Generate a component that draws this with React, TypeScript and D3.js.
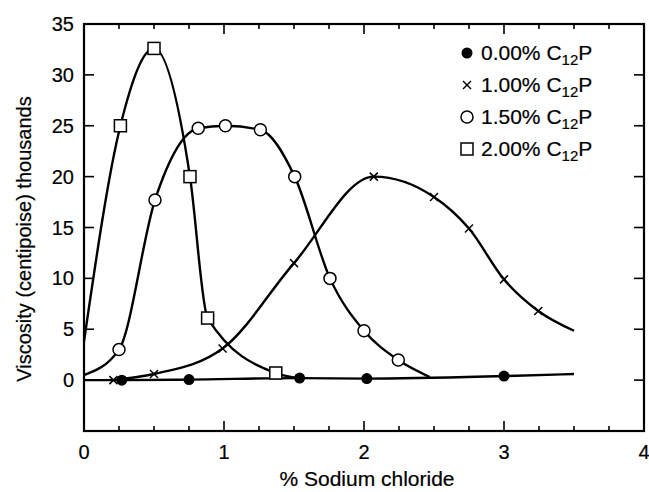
import React from "react";
import * as d3 from "d3";

type P = [number, number];

// Marker data (x = % NaCl, y = viscosity in thousands of cP)
const s000: P[] = [[0.27, 0], [0.75, 0.05], [1.54, 0.2], [2.02, 0.15], [3.0, 0.4]];
const s100: P[] = [[0.21, 0], [0.5, 0.6], [0.99, 3.1], [1.5, 11.5], [2.07, 20], [2.5, 18], [2.75, 14.9], [3.0, 9.9], [3.245, 6.8]];
const s150: P[] = [[0.25, 3], [0.507, 17.7], [0.816, 24.75], [1.01, 25], [1.26, 24.6], [1.505, 20], [1.757, 10], [2.0, 4.85], [2.245, 1.97]];
const s200: P[] = [[0.26, 25], [0.5, 32.6], [0.757, 20], [0.883, 6.1], [1.37, 0.7]];

// Curve end points
const c000Start: P = [0, 0];
const c000End: P = [3.5, 0.6];
const c100End: P = [3.5, 4.85];
const c150Start: P = [0, 0.5];
const c150End: P = [2.47, 0.3];
const c200Start: P = [0, 3.8];
const c200End: P = [1.54, 0.2];

const legendLabels = ["0.00%", "1.00%", "1.50%", "2.00%"];
const xTickLabels = [0, 1, 2, 3, 4];
const yTickLabels = [0, 5, 10, 15, 20, 25, 30, 35];

const W = 649, H = 492;
const L = 84, R = 644, T = 24, B = 431;
const FONT = "'Liberation Sans', Arial, Helvetica, sans-serif";
const TXT = { stroke: "#000", strokeWidth: 0.2 } as const;

export default function App() {
  const x = d3.scaleLinear().domain([0, 4]).range([L, R]);
  const y = d3.scaleLinear().domain([-5, 35]).range([B, T]);
  const line = d3.line<P>().x(d => x(d[0])).y(d => y(d[1])).curve(d3.curveMonotoneX);

  const curves: P[][] = [
    [c000Start, ...s000, c000End],
    [...s100, c100End],
    [c150Start, ...s150, c150End],
    [c200Start, ...s200, c200End],
  ];

  const xMinor = d3.range(0, 4.001, 0.25);

  const marker = (kind: number, cx: number, cy: number, key: string) => {
    if (kind === 0) return <circle key={key} cx={cx} cy={cy} r={5.5} fill="#000" />;
    if (kind === 1) {
      const s = 4;
      return (
        <g key={key} stroke="#000" strokeWidth={1.5}>
          <line x1={cx - s} y1={cy - s} x2={cx + s} y2={cy + s} />
          <line x1={cx - s} y1={cy + s} x2={cx + s} y2={cy - s} />
        </g>
      );
    }
    if (kind === 2) return <circle key={key} cx={cx} cy={cy} r={6} fill="#fff" stroke="#000" strokeWidth={1.5} />;
    return <rect key={key} x={cx - 6} y={cy - 6} width={12} height={12} fill="#fff" stroke="#000" strokeWidth={1.5} />;
  };

  const series = [s000, s100, s150, s200];

  return (
    <div style={{ position: "absolute", left: 0, top: 0 }}>
      <svg width={W} height={H} style={{ display: "block", background: "#fff" }} fontFamily={FONT}>
        {/* frame */}
        <rect x={L} y={T} width={R - L} height={B - T} fill="none" stroke="#000" strokeWidth={2.2} />
        {/* x ticks */}
        {xMinor.map((v, i) => {
          const major = Math.abs(v - Math.round(v)) < 1e-6;
          const len = major ? 10 : 5;
          return (
            <g key={"xt" + i} stroke="#000" strokeWidth={1.6}>
              <line x1={x(v)} x2={x(v)} y1={B} y2={B - len} />
              <line x1={x(v)} x2={x(v)} y1={T} y2={T + len} />
            </g>
          );
        })}
        {/* y ticks */}
        {yTickLabels.map(v => (
          <g key={"yt" + v} stroke="#000" strokeWidth={1.6}>
            <line x1={L} x2={L + 10} y1={y(v)} y2={y(v)} />
            <line x1={R} x2={R - 10} y1={y(v)} y2={y(v)} />
          </g>
        ))}
        {xTickLabels.map(v => (
          <text key={"xl" + v} x={x(v)} y={459} textAnchor="middle" fontSize={20} {...TXT}>{v}</text>
        ))}
        {yTickLabels.map(v => (
          <text key={"yl" + v} x={L - 10} y={y(v) + 7} textAnchor="end" fontSize={20} {...TXT}>{v}</text>
        ))}
        <text x={367} y={486} textAnchor="middle" fontSize={21} {...TXT}>% Sodium chloride</text>
        <text transform={`translate(31,239) rotate(-90)`} textAnchor="middle" fontSize={20} {...TXT}>
          Viscosity (centipoise) thousands
        </text>
        {/* curves */}
        {curves.map((c, i) => (
          <path key={"c" + i} d={line(c) || ""} fill="none" stroke="#000" strokeWidth={2.4} />
        ))}
        {/* markers */}
        {series.map((s, k) => s.map((d, j) => marker(k, x(d[0]), y(d[1]), `m${k}-${j}`)))}
        {/* legend */}
        {legendLabels.map((lab, i) => {
          const cy = 53 + i * 32;
          return (
            <g key={"lg" + i}>
              {marker(i, 467, cy, "lgm" + i)}
              <text x={481} y={cy + 7} fontSize={21} {...TXT}>
                {lab} C
                <tspan fontSize={15} dy={5}>12</tspan>
                <tspan dy={-5}>P</tspan>
              </text>
            </g>
          );
        })}
      </svg>
    </div>
  );
}
